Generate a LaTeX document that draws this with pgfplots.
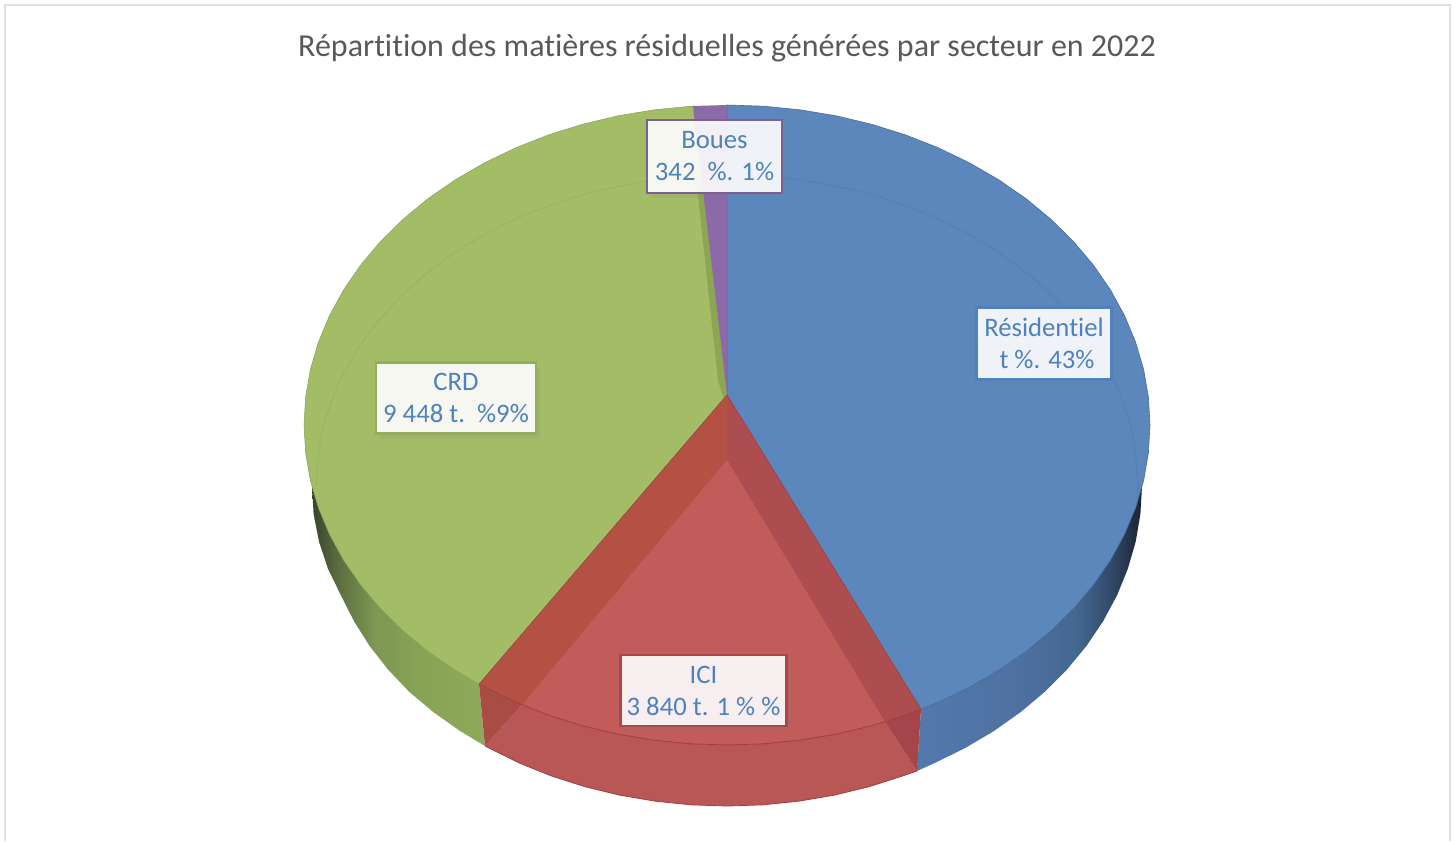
\documentclass[border=0pt]{standalone}
\usepackage{fontspec}
\setmainfont[Ligatures=NoCommon]{Carlito}
\usepackage{pgfplots}
\pgfplotsset{compat=1.18}
\usetikzlibrary{shadows}
\definecolor{blueTop}{HTML}{5C87BD}
\definecolor{greenTop}{HTML}{A2BD66}
\definecolor{purpleTop}{HTML}{8B6AA7}
\definecolor{greenDark}{HTML}{8CA653}
\definecolor{lblText}{HTML}{4F81BD}
\definecolor{ttlText}{HTML}{595959}
\definecolor{frameGray}{HTML}{E0E0E0}
\definecolor{ciL}{HTML}{B35244}
\definecolor{ciR}{HTML}{AE4D50}
\definecolor{ciC}{HTML}{C15C5A}
\definecolor{ciB}{HTML}{B85755}
\definecolor{ciCL}{HTML}{A94C44}
\definecolor{ciCR}{HTML}{A3454B}
\definecolor{ciEdge}{HTML}{A33E3C}
\definecolor{gA}{HTML}{38452A}
\definecolor{gB}{HTML}{5D7040}
\definecolor{gC}{HTML}{7E9752}
\definecolor{gD}{HTML}{8AA456}
\definecolor{gE}{HTML}{8FA95A}
\definecolor{bA}{HTML}{5578AD}
\definecolor{bB}{HTML}{4F72A3}
\definecolor{bC}{HTML}{456892}
\definecolor{bD}{HTML}{324A6A}
\definecolor{bE}{HTML}{1A2330}
\pgfdeclarehorizontalshading{greenwall}{100bp}{color(0bp)=(gA); color(25bp)=(gA); color(33bp)=(gB); color(43bp)=(gC); color(59bp)=(gD); color(75bp)=(gE); color(100bp)=(gE)}
\pgfdeclarehorizontalshading{bluewall}{100bp}{color(0bp)=(bA); color(25bp)=(bA); color(45bp)=(bB); color(60bp)=(bC); color(68bp)=(bD); color(75bp)=(bE); color(100bp)=(bE)}
\tikzset{lbl/.style={font=\fontsize{26.7}{32}\selectfont, text=lblText, align=center, fill=white, fill opacity=.9, text opacity=1,
  line width=2.5pt, inner sep=0pt, drop shadow={shadow xshift=4pt, shadow yshift=-5pt, opacity=.14}}}
\begin{document}
\begin{tikzpicture}
\begin{axis}[hide axis, scale only axis, width=1455pt, height=841pt,
  xmin=0, xmax=1455, ymin=0, ymax=841, y dir=reverse]
% page and frame
\addplot[fill=white, draw=none] coordinates {(0,0)(1455,0)(1455,841)(0,841)} --cycle;
\addplot[frameGray, line width=2.5pt] coordinates {(5,841)(5,5)(1450,5)(1450,841)};
% side walls
\addplot[shading=greenwall, draw=none] coordinates {(312,486)(313.6,513.9)(319,541.6)(328,568.8)(341,595.4)(354,621.2)(369.6,646)(388,669.5)(409.1,691.7)(433.6,712.3)(460.2,731.1)(485,746)(479,684.2)} --cycle;
\addplot[shading=bluewall, draw=none] coordinates {(921,709.4)(917,771)(934.5,763.1)(965,748.1)(993.8,731.1)(1020.4,712.3)(1044.9,691.7)(1067,669.5)(1086.4,646)(1103.1,621.2)(1117,595.4)(1127.8,568.8)(1135.7,541.6)(1140.4,513.9)(1142,486)} --cycle;
% Residentiel
\addplot[fill=blueTop, draw=blueTop!80!black, line width=.6pt] coordinates {(727,395)(727,105)(763.9,106.2)(800.4,109.9)(836.5,115.9)(871.7,124.3)(905.8,135)(938.5,147.9)(969.6,162.9)(998.9,179.9)(1026.1,198.7)(1051,219.3)(1073.5,241.5)(1093.3,265)(1110.4,289.8)(1124.5,315.6)(1135.6,342.2)(1143.6,369.4)(1148.4,397.1)(1150,425)(1148.4,452.9)(1143.6,480.6)(1135.6,507.8)(1124.5,534.4)(1110.4,560.2)(1093.3,585)(1073.5,608.5)(1051,630.7)(1026.1,651.3)(998.9,670.1)(969.6,687.1)(938.5,702.1)(921,709.4)} --cycle;
% CRD
\addplot[fill=greenTop, draw=greenTop!85!black, line width=.5pt] coordinates {(727,395)(479,684.2)(455.1,670.1)(427.9,651.3)(403,630.7)(380.5,608.5)(360.7,585)(343.6,560.2)(329.5,534.4)(318.4,507.8)(310.4,480.6)(305.6,452.9)(304,425)(305.6,397.1)(310.4,369.4)(318.4,342.2)(329.5,315.6)(343.6,289.8)(360.7,265)(380.5,241.5)(403,219.3)(427.9,198.7)(455.1,179.9)(484.4,162.9)(515.5,147.9)(548.2,135)(582.3,124.3)(617.5,115.9)(653.6,109.9)(693,106)} --cycle;
\addplot[fill=greenDark, draw=none] coordinates {(696,178)(701.5,178)(727,395)(725,403)(718,380)} --cycle;
% Boues
\addplot[fill=purpleTop, draw=none] coordinates {(693,106)(727,105)(727,395)} --cycle;
% back rim seen through the slices
\addplot[smooth, blueTop!93!black, line width=.7pt] coordinates {(727,175)(798.4,179.7)(867.6,193.7)(932.5,216.5)(991.2,247.5)(1041.8,285.7)(1082.9,330)(1113.2,379)(1131.8,431.2)(1138,485)(1136,505)};
\addplot[smooth, greenTop!94!black, line width=.7pt] coordinates {(316,485)(322.2,431.2)(340.8,379)(371.1,330)(412.2,285.7)(462.8,247.5)(521.5,216.5)(586.4,193.7)(655.6,179.7)(696,177)};
% ICI
\addplot[fill=ciL, draw=none] coordinates {(727,395)(727,745)(690.1,743.8)(653.6,740.1)(617.5,734.1)(582.3,725.7)(548.2,715)(515.5,702.1)(484.4,687.1)(479,684.2)} --cycle;
\addplot[fill=ciR, draw=none] coordinates {(727,395)(921,709.4)(905.8,715)(871.7,725.7)(836.5,734.1)(800.4,740.1)(763.9,743.8)(727,745)} --cycle;
\addplot[fill=ciC, draw=none] coordinates {(727,460)(885,721.8)(871.7,725.7)(836.5,734.1)(800.4,740.1)(763.9,743.8)(727,745)(690.1,743.8)(653.6,740.1)(617.5,734.1)(582.3,725.7)(548.2,715)(522,704.9)} --cycle;
\addplot[fill=ciB, draw=none] coordinates {(522,704.9)(548.2,715)(582.3,725.7)(617.5,734.1)(653.6,740.1)(690.1,743.8)(727,745)(763.9,743.8)(800.4,740.1)(836.5,734.1)(871.7,725.7)(885,721.8)(917,771)(902.4,776)(868.9,786.7)(834.4,795.1)(799.1,801.1)(763.2,804.8)(727,806)(690.8,804.8)(654.9,801.1)(619.6,795.1)(585.1,786.7)(551.6,776)(519.5,763.1)(485,746)} --cycle;
\addplot[fill=ciCL, draw=none] coordinates {(479,684.2)(522,704.9)(485,746)} --cycle;
\addplot[fill=ciCR, draw=none] coordinates {(921,709.4)(885,721.8)(917,771)} --cycle;
% ICI edges
\addplot[ciEdge, line width=.8pt] coordinates {(479,684.2)(484.4,687.1)(515.5,702.1)(548.2,715)(582.3,725.7)(617.5,734.1)(653.6,740.1)(690.1,743.8)(727,745)(763.9,743.8)(800.4,740.1)(836.5,734.1)(871.7,725.7)(905.8,715)(921,709.4)};
\addplot[ciEdge, line width=.8pt] coordinates {(917,771)(902.4,776)(868.9,786.7)(834.4,795.1)(799.1,801.1)(763.2,804.8)(727,806)(690.8,804.8)(654.9,801.1)(619.6,795.1)(585.1,786.7)(551.6,776)(519.5,763.1)(485,746)};
\addplot[ciEdge, line width=.6pt] coordinates {(479,684.2)(727,395)(921,709.4)};
% title and labels
\node[font=\fontsize{32}{36}\selectfont, text=ttlText] at (axis cs:727,48) {Répartition des matières résiduelles générées par secteur en 2022};
\node[lbl, draw=lblText, minimum width=135pt, minimum height=72pt] at (axis cs:1044,343.5) {Résidentiel\\\hspace*{6pt}t \%. 43\%};
\node[lbl, draw=greenTop!92!black, minimum width=160pt, minimum height=71pt] at (axis cs:456,398) {CRD\\9 448 t.\ \ \%9\%};
\node[lbl, draw=ciEdge!70!ciC, minimum width=166pt, minimum height=71pt] at (axis cs:703.5,690.5) {ICI\\3 840 t. 1 \% \%};
\node[lbl, draw=purpleTop!90!black, minimum width=135pt, minimum height=73pt] at (axis cs:714.5,156.5) {Boues\\342\ \ \%. 1\%};
\end{axis}
\end{tikzpicture}
\end{document}
